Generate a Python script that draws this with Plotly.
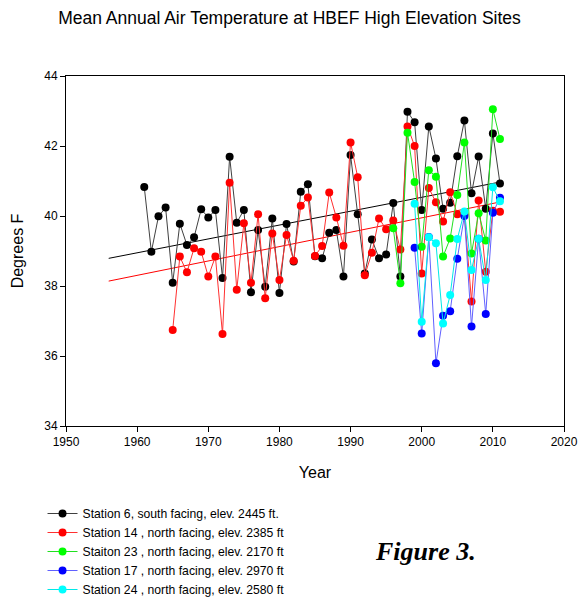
import plotly.graph_objects as go

# ---------------- data ----------------
years_s6 = list(range(1961, 2012))
temps_s6 = [40.83, 38.98, 39.99, 40.24, 38.09, 39.78, 39.17, 39.39, 40.19, 39.96,
            40.17, 38.23, 41.69, 39.81, 40.17, 37.82, 39.60, 37.98, 39.93, 37.80,
            39.77, 38.70, 40.69, 40.91, 38.85, 38.79, 39.52, 39.60, 38.27, 41.74,
            40.05, 38.36, 39.33, 38.79, 38.90, 40.37, 38.27, 42.98, 42.68, 40.17,
            42.56, 41.64, 40.21, 40.38, 41.71, 42.73, 40.65, 41.70, 40.21, 42.36,
            40.93]

years_s14 = list(range(1965, 2012))
temps_s14 = [36.74, 38.84, 38.39, 39.08, 38.98, 38.27, 38.84, 36.63, 40.95, 37.89,
             39.79, 38.09, 40.05, 37.65, 39.50, 38.17, 39.46, 38.72, 40.29, 40.53,
             38.86, 39.14, 40.67, 39.96, 39.15, 42.10, 41.11, 38.31, 38.95, 39.93,
             39.62, 39.87, 39.04, 42.56, 42.00, 38.36, 40.80, 40.39, 39.84, 40.68,
             40.05, 40.05, 37.56, 40.44, 38.41, 40.15, 40.12]

years_s23 = list(range(1996, 2012))
temps_s23 = [39.65, 38.08, 42.38, 40.97, 39.12, 41.31, 41.12, 38.84, 39.36, 40.60,
             42.10, 38.93, 40.08, 39.30, 43.05, 42.20]

years_s17 = list(range(1999, 2012))
temps_s17 = [39.09, 36.64, 39.40, 35.79, 37.15, 37.28, 38.78, 40.00, 36.84, 39.35,
             37.20, 40.09, 40.52]

years_s24 = list(range(1999, 2012))
temps_s24 = [40.35, 36.98, 39.39, 39.22, 36.93, 37.74, 39.34, 40.13, 38.46, 39.35,
             38.17, 40.82, 40.42]

# trend lines (end points)
trend_years = [1956, 2011]
trend_s6 = [38.79, 40.97]
trend_s14 = [38.14, 40.40]

names = [
    "Station 6, south facing, elev. 2445 ft.",
    "Station 14 , north facing, elev. 2385 ft",
    "Staiton 23 , north facing, elev. 2170 ft",
    "Station 17 , north facing, elev. 2970 ft",
    "Station 24 , north facing, elev. 2580 ft",
]

x_ticks = [1950, 1960, 1970, 1980, 1990, 2000, 2010, 2020]
y_ticks = [34, 36, 38, 40, 42, 44]

# ---------------- figure ----------------
fig = go.Figure()

fig.add_trace(go.Scatter(x=trend_years, y=trend_s6, mode="lines",
                         line=dict(color="#000000", width=1), showlegend=False,
                         hoverinfo="skip"))
fig.add_trace(go.Scatter(x=trend_years, y=trend_s14, mode="lines",
                         line=dict(color="#ff0000", width=1), showlegend=False,
                         hoverinfo="skip"))

series = [
    (years_s6, temps_s6, names[0], "#404040", "#000000"),
    (years_s14, temps_s14, names[1], "#ff3030", "#ff0000"),
    (years_s23, temps_s23, names[2], "#20e020", "#00ff00"),
    (years_s17, temps_s17, names[3], "#6060ff", "#0000ff"),
    (years_s24, temps_s24, names[4], "#00e8e8", "#00ffff"),
]
for xs, ys, nm, lc, mc in series:
    fig.add_trace(go.Scatter(
        x=xs, y=ys, mode="lines+markers", name=nm,
        line=dict(color=lc, width=1),
        marker=dict(color=mc, size=8, line=dict(width=0)),
    ))

fig.update_layout(
    width=579, height=600,
    margin=dict(l=65.5, r=15, t=76, b=174, pad=0, autoexpand=False),
    paper_bgcolor="white", plot_bgcolor="white",
    font=dict(family="Liberation Sans, Arial, sans-serif", size=12, color="#000000"),
    title=dict(text="Mean Annual Air Temperature at HBEF High Elevation Sites",
               x=0.5, xref="container", xanchor="center",
               y=1 - 18 / 600, yref="container", yanchor="middle",
               font=dict(size=17.5, color="#000000")),
    xaxis=dict(range=[1950, 2020], tickvals=x_ticks, ticks="outside", ticklen=5,
               tickcolor="#000000", showline=True, linecolor="#000000", linewidth=1,
               mirror=True, showgrid=False, zeroline=False,
               title=dict(text="Year", font=dict(size=16), standoff=18)),
    yaxis=dict(range=[34, 44], tickvals=y_ticks, ticks="outside", ticklen=5,
               tickcolor="#000000", showline=True, linecolor="#000000", linewidth=1,
               mirror=True, showgrid=False, zeroline=False,
               title=dict(text="Degrees F", font=dict(size=16), standoff=16)),
    legend=dict(x=(42 - 65.5) / 498.5, y=(426 - 604) / 350, xanchor="left", yanchor="bottom",
                font=dict(size=12.2), bgcolor="rgba(0,0,0,0)", borderwidth=0,
                tracegroupgap=0, itemwidth=30),
    annotations=[dict(text="<b><i>Figure 3.</i></b>", xref="paper", yref="paper",
                      x=(373 - 65.5) / 498.5, y=(426 - 551) / 350,
                      xanchor="left", yanchor="middle", showarrow=False,
                      font=dict(family="Liberation Serif, Times New Roman, serif",
                                size=26, color="#000000"))],
)

fig.write_html("out.html")
